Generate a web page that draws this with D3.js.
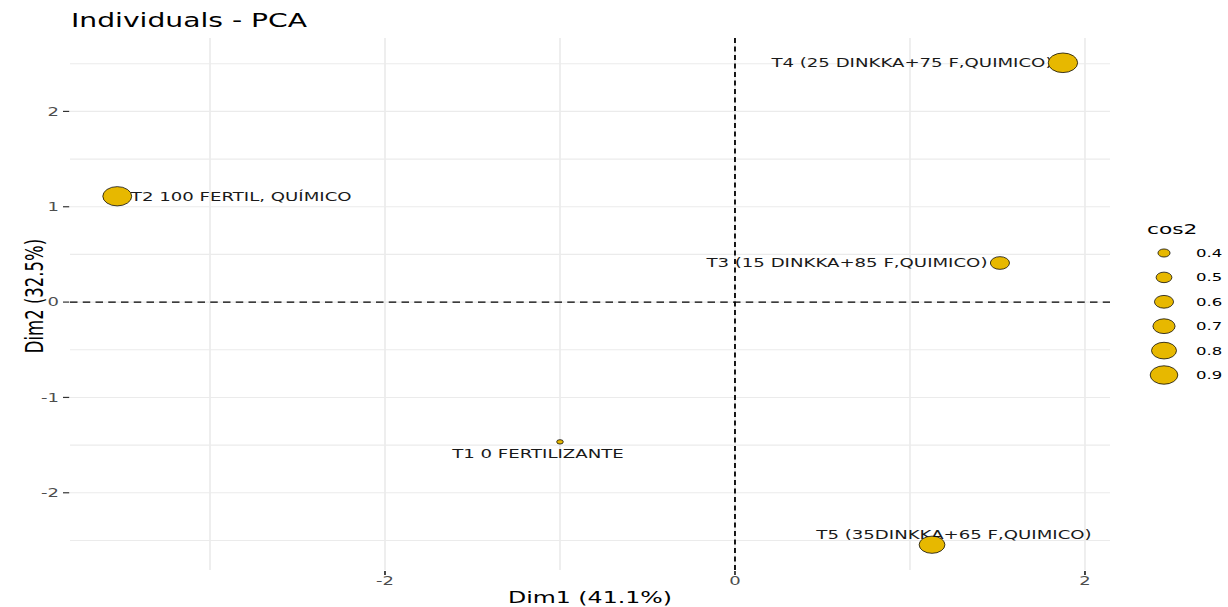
<!DOCTYPE html>
<html>
<head>
<meta charset="utf-8">
<script src="https://cdn.jsdelivr.net/npm/d3@7"></script>
<style>
  html, body { margin: 0; padding: 0; background: #ffffff; }
  svg { display: block; }
  text { font-family: "DejaVu Sans", sans-serif; }
</style>
</head>
<body>
<div id="chart"></div>
<script>
// Individuals on the first two principal components
const individuals = [
  "T1 0 FERTILIZANTE",
  "T2 100 FERTIL, QUÍMICO",
  "T3 (15 DINKKA+85 F,QUIMICO)",
  "T4 (25 DINKKA+75 F,QUIMICO)",
  "T5 (35DINKKA+65 F,QUIMICO)"
];
const dim1 = [-1.00, -3.53, 1.514, 1.874, 1.126];
const dim2 = [-1.466, 1.11, 0.41, 2.51, -2.545];
const cos2 = [0.27, 0.95, 0.60, 0.97, 0.83];

const xTicks = [-2, 0, 2];
const yTicks = [-2, -1, 0, 1, 2];
const xMinor = [-3, -1, 1];
const yMinor = [-2.5, -1.5, -0.5, 0.5, 1.5, 2.5];
const cos2Breaks = [0.4, 0.5, 0.6, 0.7, 0.8, 0.9];

const titleText = "Individuals - PCA";
const xTitle = "Dim1 (41.1%)";
const yTitle = "Dim2 (32.5%)";
const legendTitle = "cos2";

// Label placement (repelled offsets, in screen px)
const labelOffsets = [
  { dx: -22, dy: 12 },
  { dx: 124, dy: 0 },
  { dx: -153, dy: 0 },
  { dx: -151, dy: 0 },
  { dx: 22, dy: -10 }
];

// The drawing is laid out on a narrower canvas and widened to the page
const WIDTH = 1228, HEIGHT = 607, SX = 1.5;
const W = WIDTH / SX;
const X = px => px / SX;

const svg = d3.select("#chart").append("svg")
  .attr("width", WIDTH)
  .attr("height", HEIGHT)
  .attr("viewBox", `0 0 ${W} ${HEIGHT}`)
  .attr("preserveAspectRatio", "none");

const panel = { left: X(70), right: X(1110), top: 38, bottom: 570 };

const x = d3.scaleLinear().domain([-3.8, 2.143]).range([panel.left, panel.right]);
const y = d3.scaleLinear().domain([-2.81, 2.77]).range([panel.bottom, panel.top]);
const r = d3.scaleSqrt().domain([0.27, 0.97]).range([2.2, 9.8]);

const gridColor = "#ebebeb";
const fill = "#E7B800";

// Grid
const grid = svg.append("g");
grid.selectAll(".vminor").data(xMinor).join("line")
  .attr("x1", d => x(d)).attr("x2", d => x(d))
  .attr("y1", panel.top).attr("y2", panel.bottom)
  .attr("stroke", gridColor).attr("stroke-width", 1.1);
grid.selectAll(".vmajor").data(xTicks).join("line")
  .attr("x1", d => x(d)).attr("x2", d => x(d))
  .attr("y1", panel.top).attr("y2", panel.bottom)
  .attr("stroke", gridColor).attr("stroke-width", 1.1);
grid.selectAll(".hminor").data(yMinor).join("line")
  .attr("x1", panel.left).attr("x2", panel.right)
  .attr("y1", d => y(d)).attr("y2", d => y(d))
  .attr("stroke", gridColor).attr("stroke-width", 1.1);
grid.selectAll(".hmajor").data(yTicks).join("line")
  .attr("x1", panel.left).attr("x2", panel.right)
  .attr("y1", d => y(d)).attr("y2", d => y(d))
  .attr("stroke", gridColor).attr("stroke-width", 1.1);

// Axes: ticks and labels
const yAxis = svg.append("g");
yAxis.selectAll("line").data(yTicks).join("line")
  .attr("x1", X(63)).attr("x2", panel.left - 0.5)
  .attr("y1", d => y(d)).attr("y2", d => y(d))
  .attr("stroke", "#333").attr("stroke-width", 1.2);
yAxis.selectAll("text").data(yTicks).join("text")
  .attr("x", X(59)).attr("y", d => y(d)).attr("dy", "0.36em")
  .attr("text-anchor", "end")
  .attr("font-size", 12).attr("fill", "#4d4d4d")
  .text(d => d);

const xAxis = svg.append("g");
xAxis.selectAll("line").data(xTicks).join("line")
  .attr("x1", d => x(d)).attr("x2", d => x(d))
  .attr("y1", panel.bottom + 1).attr("y2", panel.bottom + 5)
  .attr("stroke", "#333").attr("stroke-width", 1.2);
xAxis.selectAll("text").data(xTicks).join("text")
  .attr("x", d => x(d)).attr("y", 585)
  .attr("text-anchor", "middle")
  .attr("font-size", 12).attr("fill", "#4d4d4d")
  .text(d => d);

// Point labels
svg.append("g").selectAll("text").data(individuals).join("text")
  .attr("x", (d, i) => x(dim1[i]) + X(labelOffsets[i].dx))
  .attr("y", (d, i) => y(dim2[i]) + labelOffsets[i].dy)
  .attr("dy", "0.36em")
  .attr("text-anchor", "middle")
  .attr("font-size", 12.1).attr("fill", "#1a1a1a")
  .text(d => d);

// Points sized by cos2
svg.append("g").selectAll("circle").data(individuals).join("circle")
  .attr("cx", (d, i) => x(dim1[i]))
  .attr("cy", (d, i) => y(dim2[i]))
  .attr("r", (d, i) => r(cos2[i]))
  .attr("fill", fill).attr("stroke", "#000").attr("stroke-width", 0.6);

// Reference lines through the origin
svg.append("line")
  .attr("x1", x(0)).attr("x2", x(0))
  .attr("y1", panel.top).attr("y2", panel.bottom)
  .attr("stroke", "#000").attr("stroke-width", 1.2)
  .attr("stroke-dasharray", "5,3.5");
svg.append("line")
  .attr("x1", panel.left).attr("x2", panel.right)
  .attr("y1", y(0)).attr("y2", y(0))
  .attr("stroke", "#000").attr("stroke-width", 1.1)
  .attr("stroke-dasharray", "5,3.5");

// Titles
svg.append("text")
  .attr("x", X(71)).attr("y", 27)
  .attr("font-size", 18.8).attr("fill", "#000")
  .text(titleText);
svg.append("text")
  .attr("x", X(590)).attr("y", 603)
  .attr("text-anchor", "middle")
  .attr("font-size", 15.8).attr("fill", "#000")
  .text(xTitle);
svg.append("text")
  .attr("transform", `translate(${X(43)},296) rotate(-90)`)
  .attr("text-anchor", "middle")
  .attr("font-size", 16.5).attr("fill", "#000")
  .text(yTitle);

// Legend
const legend = svg.append("g");
legend.append("text")
  .attr("x", X(1147)).attr("y", 234)
  .attr("font-size", 14.5).attr("fill", "#000")
  .text(legendTitle);
const key = legend.selectAll("g.key").data(cos2Breaks).join("g")
  .attr("transform", (d, i) => `translate(0,${253 + i * 24.4})`);
key.append("circle")
  .attr("cx", X(1164)).attr("cy", 0)
  .attr("r", d => r(d))
  .attr("fill", fill).attr("stroke", "#000").attr("stroke-width", 0.6);
key.append("text")
  .attr("x", X(1196)).attr("y", 0).attr("dy", "0.36em")
  .attr("font-size", 11).attr("fill", "#000")
  .text(d => d.toFixed(1));
</script>
</body>
</html>
